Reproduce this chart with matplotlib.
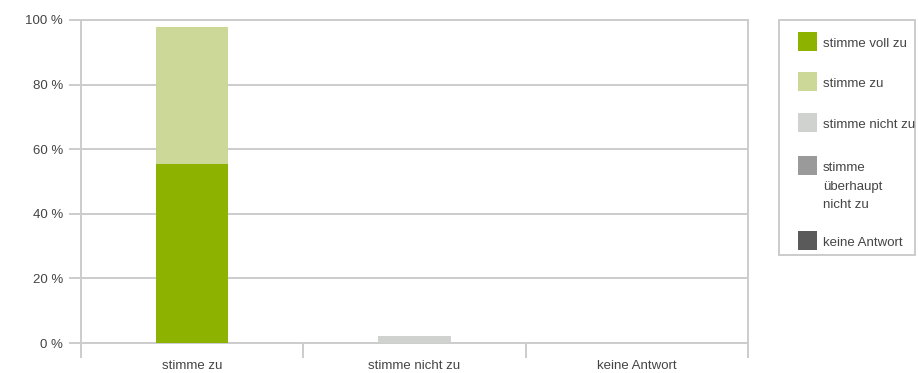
import matplotlib.pyplot as plt
from matplotlib.patches import Rectangle
import numpy as np

plt.rcParams['font.family'] = ['Liberation Sans Narrow', 'Liberation Sans',
                               'DejaVu Sans']

categories = ['stimme zu', 'stimme nicht zu', 'keine Antwort']
series = ['stimme voll zu', 'stimme zu', 'stimme nicht zu',
          'stimme\nüberhaupt\nnicht zu', 'keine Antwort']
values = [
    [55.3, 0.0, 0.0],
    [42.6, 0.0, 0.0],
    [0.0, 2.1, 0.0],
    [0.0, 0.0, 0.0],
    [0.0, 0.0, 0.0],
]
colors = ['#8db300', '#ccd898', '#d0d2d0', '#9a9a9a', '#5a5a5a']
yticks = [0, 20, 40, 60, 80, 100]

grid_c = '#cccccc'
text_c = '#444444'
fs = 9.5

W, H = 918, 373
fig = plt.figure(figsize=(W / 100, H / 100), dpi=100)
ax = fig.add_axes([81 / W, 1 - 343 / H, 667 / W, 323 / H])

x = np.arange(len(categories))
bottom = np.zeros(len(categories))
for name, vals, col in zip(series, values, colors):
    ax.bar(x, vals, width=0.325, bottom=bottom, color=col, label=name,
           zorder=3)
    bottom += np.array(vals)

ax.set_xlim(-0.5, len(categories) - 0.5)
ax.set_ylim(0, 100)
ax.set_yticks(yticks)
ax.set_yticklabels([f'{v} %' for v in yticks])
ax.yaxis.grid(True, color=grid_c, linewidth=1.4, zorder=0)

# ticks mark the category borders, labels go under the bar centres
ax.set_xticks(np.arange(len(categories) + 1) - 0.5)
ax.set_xticklabels([])
ax.set_xticks(x, minor=True)
ax.set_xticklabels(categories, minor=True)
ax.tick_params(axis='x', which='major', length=11, width=1.4, color=grid_c,
               direction='out')
ax.tick_params(axis='x', which='minor', length=0, pad=12, labelsize=fs,
               labelcolor=text_c)
ax.tick_params(axis='y', length=9, width=1.4, color=grid_c, pad=4,
               labelsize=fs, labelcolor=text_c)

for side in ['left', 'right', 'top', 'bottom']:
    ax.spines[side].set_color(grid_c)
    ax.spines[side].set_linewidth(1.4)

# legend box, laid out in pixel coordinates
lg = fig.add_axes([0, 0, 1, 1])
lg.set_xlim(0, W)
lg.set_ylim(H, 0)
lg.axis('off')
lg.add_patch(Rectangle((779, 19.5), 136, 235, fill=False, edgecolor=grid_c,
                       linewidth=1.4))
row_y = [41, 81, 122, 165, 240]
for name, col, cy in zip(series, colors, row_y):
    lg.add_patch(Rectangle((798, cy - 9.5), 19, 19, facecolor=col,
                           edgecolor='none'))
    lg.text(823, cy - 3, name, ha='left', va='top', fontsize=fs,
            color=text_c, linespacing=1.75)

fig.savefig('out.png', dpi=100)
